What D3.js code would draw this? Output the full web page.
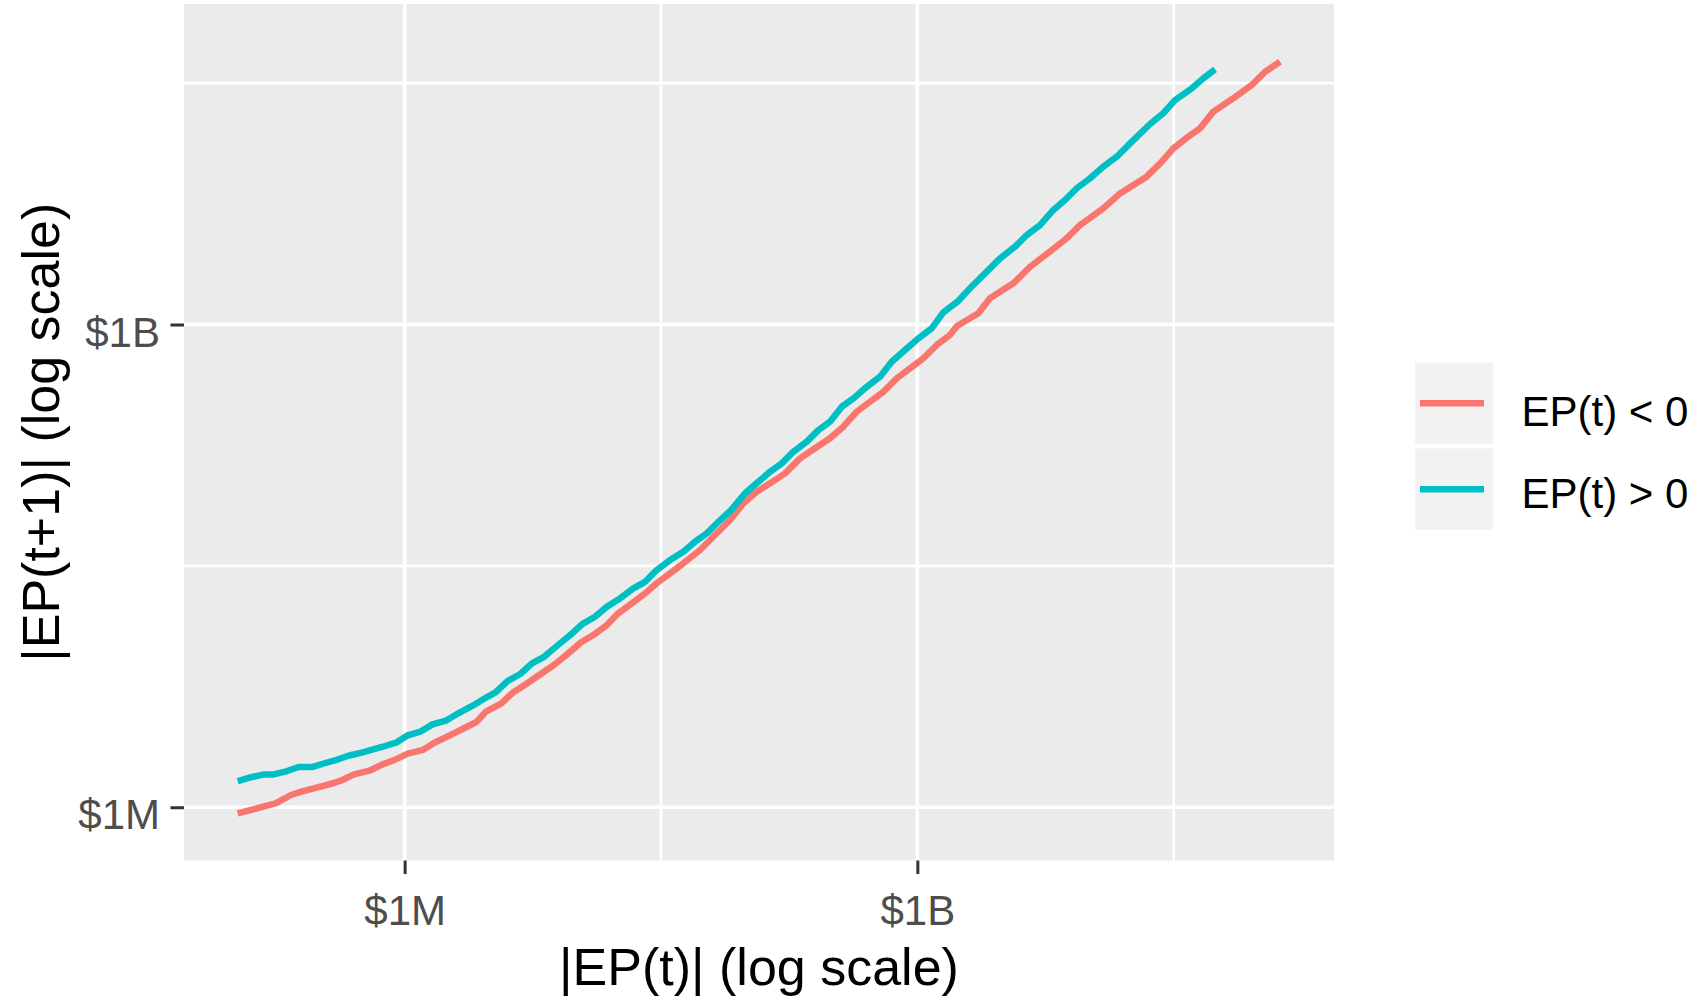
<!DOCTYPE html>
<html>
<head>
<meta charset="utf-8">
<script src="https://cdn.jsdelivr.net/npm/d3@7"></script>
<style>
  body { margin: 0; background: #ffffff; }
  svg text { font-family: "Liberation Sans", Arial, sans-serif; }
</style>
</head>
<body>
<div id="svg"></div>
<script>
// values, as log10 of dollars
var negLogX = [5.023,5.155,5.245,5.335,5.401,5.491,5.581,5.626,5.704,5.793,5.872,5.939,6.018,6.107,6.174,6.264,6.342,6.421,6.476,6.566,6.634,6.707,6.792,6.874,6.950,7.031,7.104,7.183,7.250,7.329,7.407,7.475,7.553,7.631,7.729,7.806,7.904,7.982,8.060,8.138,8.226,8.314,8.401,8.489,8.567,8.645,8.723,8.801,8.880,8.957,9.035,9.114,9.191,9.232,9.357,9.425,9.562,9.660,9.767,9.874,9.952,10.088,10.186,10.342,10.430,10.498,10.584,10.654,10.732,10.849,10.957,11.035,11.122];
var negLogY = [5.962,5.999,6.024,6.076,6.099,6.124,6.149,6.165,6.204,6.227,6.267,6.293,6.333,6.356,6.401,6.447,6.488,6.531,6.594,6.646,6.713,6.763,6.825,6.884,6.949,7.024,7.070,7.132,7.205,7.267,7.329,7.392,7.454,7.516,7.599,7.681,7.785,7.889,7.961,8.013,8.075,8.168,8.231,8.293,8.365,8.458,8.520,8.582,8.666,8.728,8.790,8.873,8.935,8.991,9.070,9.163,9.256,9.359,9.446,9.536,9.618,9.722,9.815,9.919,10.012,10.095,10.167,10.219,10.323,10.406,10.489,10.571,10.633];
var posLogX = [5.023,5.088,5.177,5.233,5.312,5.379,5.458,5.536,5.603,5.671,5.760,5.872,5.950,6.018,6.096,6.163,6.241,6.319,6.398,6.465,6.532,6.602,6.677,6.745,6.816,6.895,6.969,7.041,7.114,7.183,7.260,7.338,7.407,7.475,7.553,7.631,7.699,7.768,7.836,7.910,7.992,8.070,8.138,8.207,8.274,8.353,8.421,8.489,8.558,8.626,8.704,8.782,8.850,8.928,9.006,9.084,9.152,9.235,9.308,9.396,9.484,9.572,9.640,9.718,9.796,9.864,9.933,10.011,10.088,10.167,10.245,10.362,10.439,10.508,10.606,10.673,10.742];
var posLogY = [6.163,6.183,6.204,6.204,6.225,6.250,6.250,6.275,6.295,6.320,6.343,6.376,6.401,6.447,6.472,6.515,6.538,6.587,6.631,6.674,6.714,6.784,6.828,6.894,6.935,7.006,7.070,7.140,7.184,7.246,7.298,7.360,7.401,7.474,7.536,7.588,7.650,7.702,7.774,7.847,7.951,8.023,8.085,8.137,8.209,8.272,8.344,8.396,8.489,8.541,8.613,8.676,8.769,8.842,8.914,8.976,9.075,9.142,9.225,9.318,9.411,9.484,9.556,9.618,9.712,9.774,9.847,9.909,9.981,10.043,10.126,10.246,10.313,10.395,10.468,10.530,10.586];

var seriesNames = ["EP(t) < 0", "EP(t) > 0"];
var seriesColours = ["#F8766D", "#00BFC4"];
var majorTicks = [1e6, 1e9];
var majorTickLabels = ["$1M", "$1B"];
var minorTicks = [Math.pow(10, 7.5), Math.pow(10, 10.5)];

var svgWidth = 1703, svgHeight = 1001;
var panelLeft = 184, panelRight = 1334, panelTop = 4, panelBottom = 860.5;
var tickFontSize = 42, titleFontSize = 52;

var divDOM = d3.select("body").select("div#svg");
var svg = divDOM.append("svg")
    .attr("width", svgWidth)
    .attr("height", svgHeight);

var x = d3.scaleLog()
    .domain([Math.pow(10, 4.709), Math.pow(10, 11.438)])
    .range([panelLeft, panelRight]);
var y = d3.scaleLog()
    .domain([Math.pow(10, 5.669), Math.pow(10, 10.992)])
    .range([panelBottom, panelTop]);

function toPoints(lx, ly) {
    return lx.map(function(v, i) {
        return { x: Math.pow(10, v), y: Math.pow(10, ly[i]) };
    });
}
var series = [toPoints(negLogX, negLogY), toPoints(posLogX, posLogY)];

//panel background
svg.append("rect")
    .attr("x", panelLeft)
    .attr("y", panelTop)
    .attr("width", panelRight - panelLeft)
    .attr("height", panelBottom - panelTop)
    .style("fill", "#EBEBEB");

//grid
var grid = svg.append("g").attr("id", "grid");
minorTicks.forEach(function(t) {
    grid.append("line")
        .attr("x1", x(t)).attr("x2", x(t))
        .attr("y1", panelTop).attr("y2", panelBottom)
        .style("stroke", "white").style("stroke-width", 2.6);
    grid.append("line")
        .attr("x1", panelLeft).attr("x2", panelRight)
        .attr("y1", y(t)).attr("y2", y(t))
        .style("stroke", "white").style("stroke-width", 2.6);
});
majorTicks.forEach(function(t) {
    grid.append("line")
        .attr("x1", x(t)).attr("x2", x(t))
        .attr("y1", panelTop).attr("y2", panelBottom)
        .style("stroke", "white").style("stroke-width", 3.6);
    grid.append("line")
        .attr("x1", panelLeft).attr("x2", panelRight)
        .attr("y1", y(t)).attr("y2", y(t))
        .style("stroke", "white").style("stroke-width", 3.6);
});

//lines
var line = d3.line()
    .x(function(d) { return x(d.x); })
    .y(function(d) { return y(d.y); });
var plotArea = svg.append("g").attr("id", "plotArea");
series.forEach(function(s, i) {
    plotArea.append("path")
        .datum(s)
        .attr("d", line)
        .attr("fill", "none")
        .style("stroke", seriesColours[i])
        .style("stroke-width", 6.5)
        .style("stroke-linejoin", "round")
        .style("stroke-linecap", "butt");
});

//x-axis
var xAxis = svg.append("g")
    .attr("transform", "translate(0," + panelBottom + ")")
    .call(d3.axisBottom(x).tickValues(majorTicks)
        .tickFormat(function(d, i) { return majorTickLabels[i]; })
        .tickSize(13.5));
xAxis.select(".domain").remove();
xAxis.selectAll("line").style("stroke", "#333333").style("stroke-width", 3);
xAxis.selectAll("text")
    .attr("y", 925 - panelBottom)
    .attr("dy", null)
    .attr("font-size", tickFontSize)
    .style("font-family", "'Liberation Sans', Arial, sans-serif")
    .attr("fill", "#4D4D4D");

//y-axis
var yAxis = svg.append("g")
    .attr("transform", "translate(" + panelLeft + ",0)")
    .call(d3.axisLeft(y).tickValues(majorTicks)
        .tickFormat(function(d, i) { return majorTickLabels[i]; })
        .tickSize(13.5));
yAxis.select(".domain").remove();
yAxis.selectAll("line").style("stroke", "#333333").style("stroke-width", 3);
yAxis.selectAll("text")
    .attr("x", -24)
    .attr("dy", 21.6)
    .attr("font-size", tickFontSize)
    .style("font-family", "'Liberation Sans', Arial, sans-serif")
    .attr("fill", "#4D4D4D");

//axis titles
svg.append("text")
    .text("|EP(t)| (log scale)")
    .attr("x", (panelLeft + panelRight) / 2)
    .attr("y", 985)
    .attr("font-size", titleFontSize)
    .attr("text-anchor", "middle")
    .attr("fill", "black");
svg.append("text")
    .text("|EP(t+1)| (log scale)")
    .attr("transform", "translate(59," + (panelTop + panelBottom) / 2 + ") rotate(-90)")
    .attr("font-size", titleFontSize)
    .attr("text-anchor", "middle")
    .attr("fill", "black");

//legend
var legend = svg.append("g").attr("id", "legend");
seriesNames.forEach(function(name, i) {
    var top = 362.5 + i * 86;
    legend.append("rect")
        .attr("x", 1415)
        .attr("y", top)
        .attr("width", 78)
        .attr("height", 81.5)
        .style("fill", "#F2F2F2");
    legend.append("line")
        .attr("x1", 1420).attr("x2", 1484)
        .attr("y1", top + 40.8).attr("y2", top + 40.8)
        .style("stroke", seriesColours[i]).style("stroke-width", 6.5);
    legend.append("text")
        .text(name)
        .attr("x", 1521.5)
        .attr("y", 426 + i * 82.3)
        .attr("font-size", tickFontSize)
        .attr("fill", "black");
});
</script>
</body>
</html>
